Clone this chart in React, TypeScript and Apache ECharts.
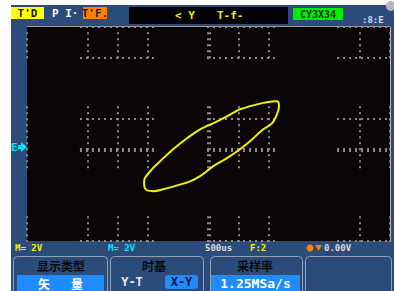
import React, { useEffect, useRef } from "react";
import * as echarts from "echarts";

// X-Y trace, read in screen divisions (x: -6..6, y: -3..4)
const traceX = [1.04, 1.6, 1.93, 2.26, 2.33, 2.26, 2.1, 1.8, 1.37, 1.04, 0.61, 0.15, -0.28, -0.61, -1.04, -1.5, -1.83, -2.1, -2.13, -1.93, -1.6, -1.17, -0.71, -0.28, 0.15, 0.61, 1.04];
const traceY = [1.31, 1.47, 1.54, 1.57, 1.41, 1.14, 0.85, 0.65, 0.26, 0, -0.29, -0.56, -0.88, -1.05, -1.18, -1.31, -1.37, -1.28, -1.05, -0.72, -0.39, 0, 0.36, 0.65, 0.85, 1.08, 1.31];

// graticule (visible parts)
const gridRows = [4, 3, 1, 0, -3];
const gridCols = [-6, -4, -3, -2, 0, 1, 2, 5, 6];
const rowSpans = [[-4.25, -1.7], [-0.05, 2.2], [4.25, 6]];
const colSpans = [[2.98, 3.96], [-0.62, 1.41], [-3.04, -2.19]];

// texts
const topBadges = ["T'D", "P I·", "T'F."];
const topInfo = ["< Y", "T-f-"];
const greenValue = "CY3X34";
const statusTexts = ["M= 2V", "M= 2V", "500us", "F:2", "0.00V"];
const menuTitles = ["显示类型", "时基", "采样率"];
const typeValue = ["矢", "量"];
const formatOptions = ["Y-T", "X-Y"];
const sampleRate = "1.25MSa/s";

const mono = '"DejaVu Sans Mono"';
const cjk = '"Noto Sans CJK SC"';
const blue = "#2b4b7b";
const sel = "#1e8cff";

function txt(text: string, x: number, y: number, fill: string, font: string, align = "left") {
  return {
    type: "text",
    x,
    y,
    z: 20,
    style: { text, fill, font, textAlign: align, textVerticalAlign: "middle" },
  };
}

export default function App() {
  const ref = useRef<HTMLDivElement>(null);
  useEffect(() => {
    const chart = echarts.init(ref.current!, null, { renderer: "svg" });

    const vSegs = gridCols
      .filter((x) => x !== 0)
      .flatMap((x) => colSpans.map(([a, b]) => ({ coords: [[x, a], [x, b]] })));
    const hSegs = gridRows
      .filter((y) => y !== 0)
      .flatMap((y) => rowSpans.map(([a, b]) => ({ coords: [[a, y], [b, y]] })));
    const vCenter = colSpans.map(([a, b]) => ({ coords: [[0, a], [0, b]] }));
    const hCenter = rowSpans.map(([a, b]) => ({ coords: [[a, 0], [b, 0]] }));

    const gridStyle = { color: "#8c8c8c", width: 2, type: [2, 4], opacity: 1, cap: "butt" };
    const centerStyle = { color: "#8c8c8c", width: 4, type: [2, 4], opacity: 1, cap: "butt" };

    const b = 'bold 11px ' + mono;
    const s = 'bold 9px ' + mono;

    chart.setOption({
      animation: false,
      grid: { left: 27, top: 27, width: 363, height: 214, show: false },
      xAxis: { type: "value", min: -6, max: 6, interval: 1, show: false },
      yAxis: { type: "value", min: -3, max: 4, interval: 1, show: false },
      series: [
        { type: "lines", coordinateSystem: "cartesian2d", data: vSegs, lineStyle: gridStyle, silent: true, z: 1 },
        { type: "lines", coordinateSystem: "cartesian2d", data: hSegs, lineStyle: gridStyle, silent: true, z: 1 },
        { type: "lines", coordinateSystem: "cartesian2d", data: vCenter, lineStyle: centerStyle, silent: true, z: 1 },
        { type: "lines", coordinateSystem: "cartesian2d", data: hCenter, lineStyle: centerStyle, silent: true, z: 1 },
        {
          type: "line",
          data: traceX.map((x, i) => [x, traceY[i]]),
          smooth: 0.4,
          showSymbol: false,
          symbol: "none",
          lineStyle: { color: "#f2f200", width: 2 },
          z: 5,
          silent: true,
        },
      ],
      graphic: [
        { type: "rect", z: -100, shape: { x: 11, y: 5, width: 383, height: 286 }, style: { fill: blue } },
        { type: "circle", z: -90, shape: { cx: 391, cy: 6, r: 5 }, style: { fill: "#b8b8b8" } },
        { type: "rect", z: -99, shape: { x: 27, y: 27, width: 363, height: 214 }, style: { fill: "#0b0505" } },
        { type: "line", z: 10, shape: { x1: 27, y1: 26.5, x2: 390, y2: 26.5 }, style: { stroke: "#9a9a9a", lineWidth: 1 } },
        { type: "line", z: 10, shape: { x1: 390.5, y1: 27, x2: 390.5, y2: 241 }, style: { stroke: "#b8b8b8", lineWidth: 1 } },

        // top bar
        { type: "rect", z: 10, shape: { x: 11, y: 7, width: 33, height: 12 }, style: { fill: "#ffff00" } },
        txt(topBadges[0], 27.5, 13, "#202020", b, "center"),
        txt(topBadges[1], 52, 13, "#ffffff", b),
        { type: "rect", z: 10, shape: { x: 83, y: 7, width: 24, height: 12 }, style: { fill: "#ff8000" } },
        txt(topBadges[2], 95, 13, "#202020", b, "center"),
        { type: "rect", z: 10, shape: { x: 129, y: 7, width: 159, height: 17 }, style: { fill: "#000000" } },
        txt(topInfo[0], 175, 15.5, "#f2f200", b),
        txt(topInfo[1], 217, 15.5, "#f2f200", b),
        { type: "rect", z: 10, shape: { x: 293, y: 8, width: 50, height: 12 }, style: { fill: "#00ee00" } },
        txt(greenValue, 318, 14, "#103010", 'bold 10px ' + mono, "center"),
        txt(":8:E", 362, 20, "#d8dce4", s),

        // channel marker
        txt("E", 11, 147, "#00e5ff", b),
        { type: "polygon", z: 10, shape: { points: [[18, 145], [21, 145], [21, 142], [27, 147], [21, 152], [21, 149], [18, 149]] }, style: { fill: "#00e5ff" } },

        // status line
        txt(statusTexts[0], 15, 248, "#f2f200", s),
        txt(statusTexts[1], 108, 248, "#00e5ff", s),
        txt(statusTexts[2], 205, 248, "#dcdcdc", s),
        txt(statusTexts[3], 250, 248, "#f2f200", s),
        { type: "circle", z: 10, shape: { cx: 310, cy: 248, r: 3.5 }, style: { fill: "#ff8000" } },
        { type: "polygon", z: 10, shape: { points: [[315, 245], [322, 245], [318.5, 251]] }, style: { fill: "#ff8000" } },
        txt(statusTexts[4], 324, 248, "#dcdcdc", s),

        // menu panels
        { type: "rect", z: 5, shape: { x: 13.5, y: 256.5, width: 94, height: 40, r: 4 }, style: { fill: blue, stroke: "#93a2b8", lineWidth: 1 } },
        { type: "rect", z: 5, shape: { x: 110.5, y: 256.5, width: 93, height: 40, r: 4 }, style: { fill: blue, stroke: "#93a2b8", lineWidth: 1 } },
        { type: "rect", z: 5, shape: { x: 210.5, y: 256.5, width: 92, height: 40, r: 4 }, style: { fill: blue, stroke: "#93a2b8", lineWidth: 1 } },
        { type: "rect", z: 5, shape: { x: 305.5, y: 256.5, width: 86, height: 40, r: 4 }, style: { fill: blue, stroke: "#93a2b8", lineWidth: 1 } },
        txt(menuTitles[0], 61, 265, "#0a0a0a", 'bold 12px ' + cjk, "center"),
        txt(menuTitles[1], 154, 265, "#0a0a0a", 'bold 12px ' + cjk, "center"),
        txt(menuTitles[2], 255, 265, "#0a0a0a", 'bold 12px ' + cjk, "center"),

        { type: "rect", z: 10, shape: { x: 17, y: 275, width: 87, height: 17 }, style: { fill: sel } },
        txt(typeValue[0], 44, 283, "#ffffff", 'bold 12px ' + cjk, "center"),
        txt(typeValue[1], 77, 283, "#ffffff", 'bold 12px ' + cjk, "center"),

        txt(formatOptions[0], 132, 282, "#e8e8e8", 'bold 12px ' + mono, "center"),
        { type: "rect", z: 10, shape: { x: 165, y: 275, width: 33, height: 14, r: 3 }, style: { fill: sel } },
        txt(formatOptions[1], 181.5, 282, "#0a1838", 'bold 12px ' + mono, "center"),

        { type: "rect", z: 10, shape: { x: 211, y: 275, width: 89, height: 17 }, style: { fill: sel } },
        txt(sampleRate, 255.5, 283, "#ffffff", 'bold 13px ' + mono, "center"),
      ],
    });
    return () => chart.dispose();
  }, []);
  return (
    <div
      ref={ref}
      style={{ position: "absolute", left: 0, top: 0, width: 394, height: 291, background: "#ffffff" }}
    />
  );
}
